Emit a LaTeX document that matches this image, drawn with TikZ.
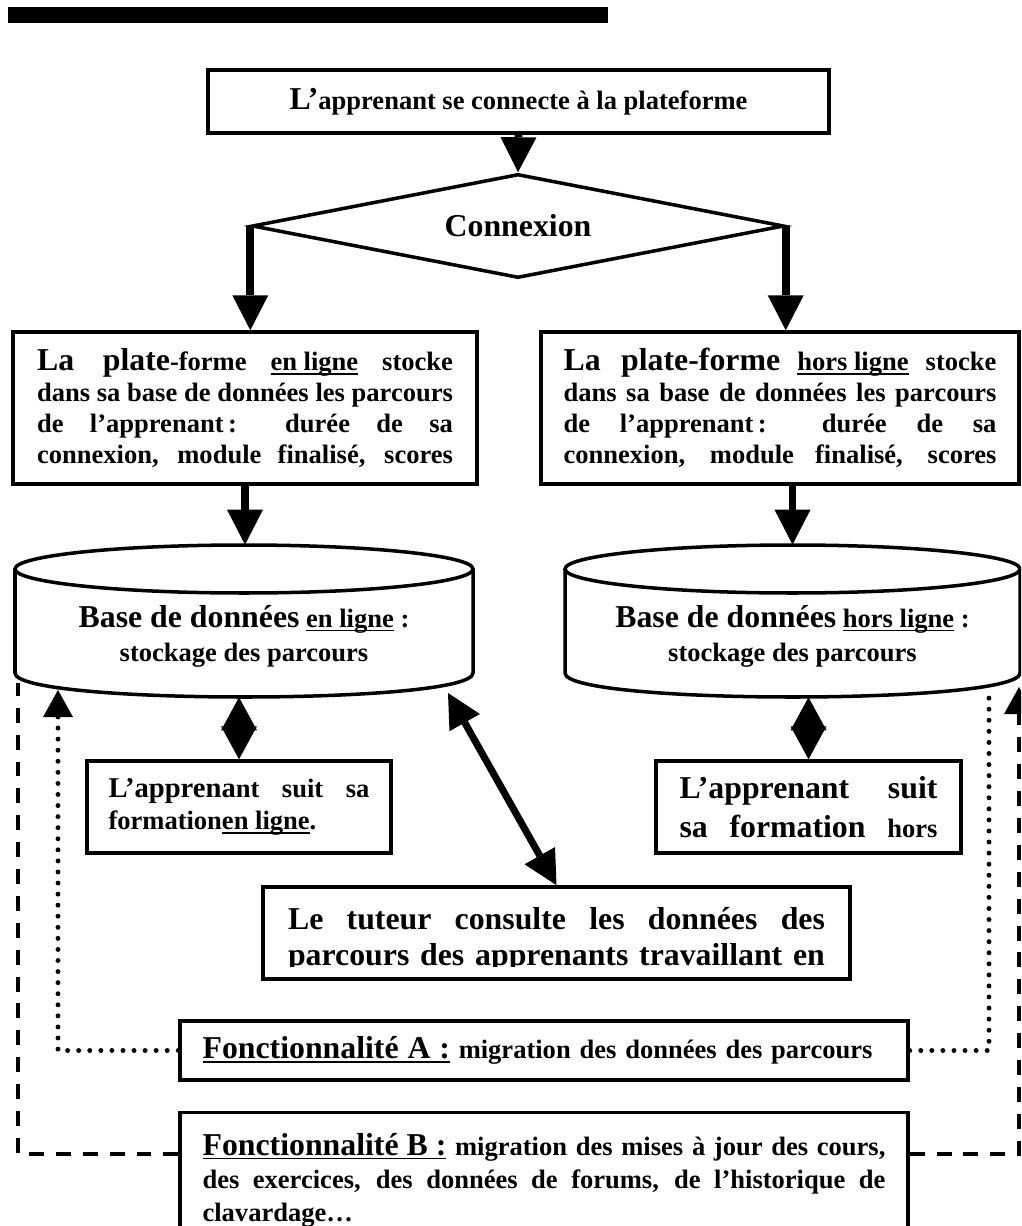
\documentclass[tikz,border=0pt]{standalone}
\usepackage{fontspec}
\setmainfont{Liberation Serif}
\usepackage{tikz}
\usetikzlibrary{shapes.geometric,arrows.meta}

\newcommand{\douze}{\fontsize{15.1}{17.6}\selectfont}
\newcommand{\treize}{\fontsize{16.3}{19}\selectfont}
\newcommand{\quatorze}{\fontsize{18.1}{21}\selectfont}
\newcommand{\jligne}[1]{{\spaceskip=0pt\xspaceskip=0pt\makebox[\hsize][s]{#1}}}
\newcommand{\souligne}[1]{\setbox0=\hbox{#1}\rlap{\rule[-2.4pt]{\wd0}{1pt}}\box0\relax}

\begin{document}
\begin{tikzpicture}[x=0.02cm, y=-0.02cm,
  boite/.style={draw, line width=2pt, inner sep=0pt, font=\bfseries\douze},
  cyl/.style={line width=2pt},
  fleche/.style={line width=4.5pt, -{Triangle[length=0.7cm, width=0.72cm, line width=0pt]}},
  dfleche/.style={line width=1.8pt, {Triangle[length=0.66cm, width=0.72cm, line width=0pt]}-{Triangle[length=0.66cm, width=0.72cm, line width=0pt]}},
  diag/.style={line width=4pt, {Triangle[length=0.68cm, width=0.7cm, line width=0pt]}-{Triangle[length=0.68cm, width=0.7cm, line width=0pt]}},
  pointille/.style={line width=2.8pt, line cap=round, dash pattern=on 0pt off 6.3pt},
  tirets/.style={line width=2.3pt, dash pattern=on 8.5pt off 6.8pt}]
\useasboundingbox (0,0) rectangle (1021,1226);
\clip (0,0) rectangle (1021,1226);

\fill (8,7) rectangle (608,23);

% haut
\node[boite, minimum width=12.42cm, minimum height=1.26cm] (top) at (518.5,101.5)
  {{\quatorze L’}apprenant se connecte à la plateforme};
\node[boite, diamond, shape aspect=5.1, minimum width=10.64cm, minimum height=2.08cm, font=\bfseries\quatorze] (dia) at (518,226) {Connexion};

% plates-formes
\node[boite, minimum width=9.28cm, minimum height=3.04cm, text width=8.32cm, align=justify] (plat1) at (245,408)
  {\jligne{{\quatorze La plate}-forme \souligne{en ligne} stocke}\\
   \jligne{dans sa base de données les parcours}\\
   \jligne{de l’apprenant\,: durée de sa}\\
   \jligne{connexion, module finalisé, scores}};
\node[boite, minimum width=9.56cm, minimum height=3.04cm, text width=8.66cm, align=justify] (plat2) at (780,408)
  {\jligne{{\quatorze La plate-forme} \souligne{hors ligne} stocke}\\
   \jligne{dans sa base de données les parcours}\\
   \jligne{de l’apprenant\,: durée de sa}\\
   \jligne{connexion, module finalisé, scores}};

% bases de donnees
\node[minimum width=9.16cm, minimum height=3.04cm, inner sep=0pt] (base1) at (244,621) {};
\node[minimum width=9.1cm, minimum height=3.04cm, inner sep=0pt] (base2) at (792.5,621) {};
\draw[cyl] (244,569) ellipse [x radius=4.58cm, y radius=0.48cm];
\draw[cyl] (15,569) -- (15,673) .. controls (15,705) and (473,705) .. (473,673) -- (473,569);
\draw[cyl] (792.5,569) ellipse [x radius=4.55cm, y radius=0.48cm];
\draw[cyl] (565,569) -- (565,673) .. controls (565,705) and (1020,705) .. (1020,673) -- (1020,569);
\node[font=\bfseries\douze, align=center] (base1txt) at (244,636)
  {{\quatorze Base de données} \souligne{en ligne} :\\[1.7pt] stockage des parcours};
\node[font=\bfseries\douze, align=center] (base2txt) at (792.5,636)
  {{\quatorze Base de données} \souligne{hors ligne} :\\[1.7pt] stockage des parcours};

% apprenants
\node[boite, minimum width=6.08cm, minimum height=1.84cm, text width=5.22cm, align=justify, font=\bfseries\fontsize{15.1}{18.2}\selectfont] (suit1) at (239,807)
  {\jligne{{\treize L’apprena}nt suit sa}\\ formation\souligne{en ligne}.};
\node[boite, minimum width=6.1cm, minimum height=1.84cm, text width=5.16cm, align=justify, font=\bfseries\fontsize{18.1}{22}\selectfont] (suit2) at (808.5,807)
  {\jligne{L’apprenant suit}\\ \jligne{sa formation {\douze hors}}};

% tuteur
\node[boite, minimum width=11.74cm, minimum height=1.84cm] (tutor) at (556.5,933) {};
\begin{scope}
\clip (263,887) rectangle (850,966);
\node[font=\bfseries\fontsize{18.1}{20.5}\selectfont, text width=10.74cm, align=justify] (tutortxt) at (556.5,940)
  {\jligne{Le tuteur consulte les données des}\\ \jligne{parcours des apprenants travaillant en}};
\end{scope}

% fonctionnalites
\node[boite, minimum width=14.56cm, minimum height=1.18cm, text width=13.66cm] (fa) at (544,1050.5)
  {\souligne{\quatorze Fonctionnalité A :} migration des données des parcours};
\node[boite, minimum width=14.56cm, minimum height=2.7cm, text width=13.66cm, align=justify, font=\bfseries\fontsize{15.1}{18.8}\selectfont] (fb) at (544,1180)
  {\jligne{\souligne{\quatorze Fonctionnalité B :} migration des mises à jour des cours,}\\
   \jligne{des exercices, des données de forums, de l’historique de}\\
   clavardage…};

\coordinate (tutA) at (448,693);
\coordinate (dotL) at (58,690);
\coordinate (dotR) at (989,697);
\coordinate (dashL) at (18,683);
\coordinate (dashR) at (1019,687);

% fleches
\draw[fleche] (top.south) -- (dia.north);
\draw[fleche] (dia.west) -- (dia.west |- plat1.north);
\draw[fleche] (dia.east) -- (dia.east |- plat2.north);
\draw[fleche] (plat1.south) -- (plat1.south |- base1.north);
\draw[fleche] (base2.north |- plat2.south) -- (base2.north);
\draw[dfleche] (suit1.north |- base1.south) -- (suit1.north);
\draw[dfleche] (suit2.north |- base2.south) -- (suit2.north);
\draw[diag] (tutA) -- (tutor.north);

\draw[pointille, -{Triangle[length=0.54cm, width=0.6cm, line width=0pt]}] (fa.west) -| (dotL);
\draw[pointille] (fa.east) -| (dotR);
\draw[tirets] (fb.north west) ++(0,43) -| (dashL);
\draw[tirets, -{Triangle[length=0.54cm, width=0.6cm, line width=0pt]}] (fb.north east) ++(0,43) -| (dashR);
\end{tikzpicture}
\end{document}
